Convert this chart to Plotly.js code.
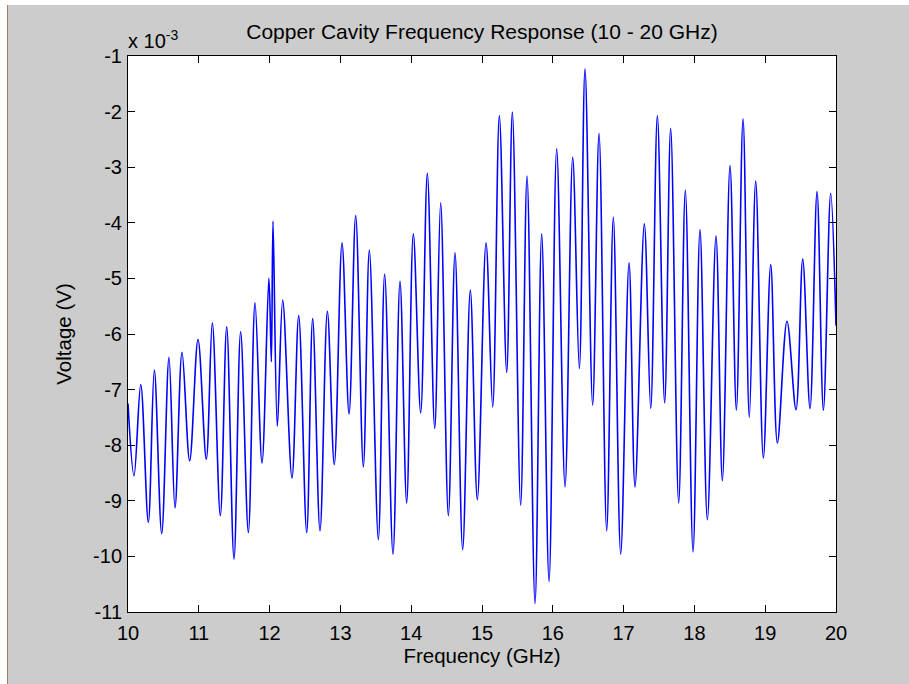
<!DOCTYPE html>
<html><head><meta charset="utf-8">
<script src="https://cdn.plot.ly/plotly-3.0.1.min.js"></script>
<style>
html,body{margin:0;padding:0;background:#ffffff;overflow:hidden;}
#bg{position:absolute;left:7px;top:5px;width:902px;height:679px;background:#cccccc;border-left:1px solid #9c7e62;}
#chart{position:absolute;left:0;top:0;width:909px;height:684px;}
</style></head><body>
<div id="bg"></div><div id="chart"></div>
<script>
// Frequency (GHz) of the peaks and troughs of the trace
const freqGHz = [
  10.000, 10.085, 10.180, 10.287, 10.372, 10.476, 10.579, 10.664, 10.763, 10.871,
  10.989, 11.106, 11.191, 11.304, 11.394, 11.497, 11.591, 11.700, 11.794, 11.893,
  11.990, 12.025, 12.048, 12.109, 12.185, 12.316, 12.411, 12.524, 12.608, 12.712,
  12.816, 12.914, 13.023, 13.122, 13.216, 13.324, 13.409, 13.536, 13.625, 13.743,
  13.842, 13.936, 14.030, 14.134, 14.228, 14.332, 14.416, 14.525, 14.619, 14.727,
  14.835, 14.934, 15.057, 15.151, 15.245, 15.349, 15.429, 15.546, 15.636, 15.749,
  15.843, 15.947, 16.055, 16.173, 16.281, 16.375, 16.455, 16.563, 16.653, 16.761,
  16.855, 16.959, 17.077, 17.161, 17.293, 17.383, 17.477, 17.580, 17.665, 17.778,
  17.872, 17.981, 18.079, 18.183, 18.305, 18.395, 18.503, 18.593, 18.687, 18.776,
  18.866, 18.974, 19.078, 19.172, 19.308, 19.435, 19.530, 19.633, 19.732, 19.822,
  19.925, 20.000
];
// Voltage in units of 1e-3 V (axis multiplier "x 10^-3")
const voltage_mV = [
  -7.25, -8.55, -6.91, -9.39, -6.65, -9.59, -6.42, -9.13, -6.33, -8.28,
  -6.10, -8.25, -5.80, -9.27, -5.87, -10.05, -5.96, -9.57, -5.44, -8.32,
  -5.00, -6.50, -3.97, -7.66, -5.39, -8.59, -5.67, -9.57, -5.72, -9.54,
  -5.59, -8.35, -4.36, -7.44, -3.87, -8.39, -4.49, -9.70, -4.92, -9.96,
  -5.05, -9.04, -4.20, -7.42, -3.11, -7.70, -3.64, -9.27, -4.54, -9.88,
  -5.21, -8.98, -4.36, -7.31, -2.07, -6.69, -2.01, -9.08, -3.16, -10.85,
  -4.20, -10.45, -2.67, -8.75, -2.82, -6.62, -1.23, -7.28, -2.39, -9.54,
  -3.90, -9.96, -4.72, -8.75, -4.02, -7.34, -2.07, -7.24, -2.30, -9.04,
  -3.41, -9.92, -4.12, -9.34, -4.24, -8.64, -2.97, -7.37, -2.13, -7.50,
  -3.25, -8.23, -4.75, -7.96, -5.77, -7.36, -4.65, -7.34, -3.44, -7.37,
  -3.47, -5.85
];
const xTickVals = [10, 11, 12, 13, 14, 15, 16, 17, 18, 19, 20];
const xTickText = ['10', '11', '12', '13', '14', '15', '16', '17', '18', '19', '20'];
const yTickVals = [-1, -2, -3, -4, -5, -6, -7, -8, -9, -10, -11];
const yTickText = ['-1', '-2', '-3', '-4', '-5', '-6', '-7', '-8', '-9', '-10', '-11'];

const FONT = 'Liberation Sans, Arial, sans-serif';

const trace = {
  x: freqGHz,
  y: voltage_mV,
  type: 'scatter',
  mode: 'lines',
  line: {color: '#0000ff', width: 1.6, shape: 'spline', smoothing: 1},
  hoverinfo: 'x+y'
};

const axisCommon = {
  showline: true, linecolor: '#000', linewidth: 1,
  mirror: 'ticks', ticks: 'inside', ticklen: 7, tickwidth: 1, tickcolor: '#000',
  showgrid: false, zeroline: false,
  tickfont: {family: FONT, size: 20, color: '#000'}
};

const layout = {
  width: 909, height: 684,
  paper_bgcolor: 'rgba(0,0,0,0)',
  plot_bgcolor: '#ffffff',
  margin: {l: 128, r: 73, t: 56, b: 72},
  showlegend: false,
  font: {family: FONT, color: '#000'},
  title: {
    text: 'Copper Cavity Frequency Response (10 - 20 GHz)',
    font: {family: FONT, size: 21, color: '#000'},
    xref: 'paper', x: 0.5, xanchor: 'center',
    yref: 'container', y: 1 - 32/684, yanchor: 'middle'
  },
  xaxis: Object.assign({}, axisCommon, {
    range: [10, 20], tickmode: 'array', tickvals: xTickVals, ticktext: xTickText,
    ticklabelstandoff: 3,
    title: {text: 'Frequency (GHz)', font: {family: FONT, size: 20.5, color: '#000'}, standoff: 5}
  }),
  yaxis: Object.assign({}, axisCommon, {
    range: [-11, -1], tickmode: 'array', tickvals: yTickVals, ticktext: yTickText,
    ticklabelstandoff: 1,
    title: {text: 'Voltage (V)', font: {family: FONT, size: 20.5, color: '#000'}, standoff: 15}
  }),
  annotations: [{
    text: 'x 10<sup>-3</sup>',
    xref: 'paper', yref: 'paper', x: 0, xanchor: 'left', xshift: -2,
    y: 1, yanchor: 'bottom', yshift: 2,
    showarrow: false,
    font: {family: FONT, size: 20, color: '#000'}
  }]
};

Plotly.newPlot('chart', [trace], layout, {displayModeBar: false});
</script>
</body></html>
